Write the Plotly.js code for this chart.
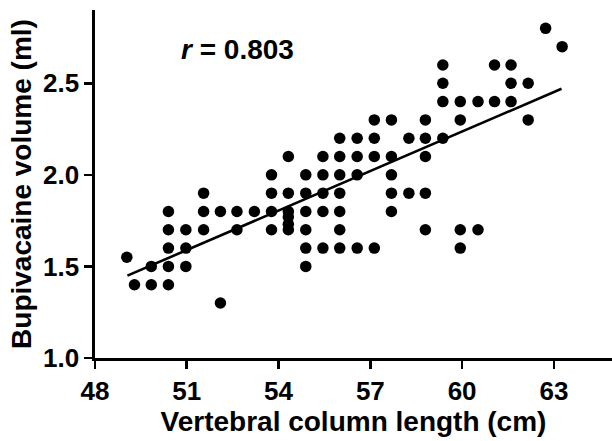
<!DOCTYPE html>
<html>
<head>
<meta charset="utf-8">
<script src="https://cdn.plot.ly/plotly-3.0.1.min.js"></script>
<style>html,body{margin:0;padding:0;background:#fff;}#chart{width:612px;height:441px;}</style>
</head>
<body>
<div id="chart"></div>
<script>
// Vertebral column length (cm) for each patient
const columnLength = [
  49.04,
  49.29,
  49.84, 49.84,
  50.40, 50.40, 50.40, 50.40, 50.40,
  50.97, 50.97, 50.97,
  51.55, 51.55, 51.55,
  52.10, 52.10,
  52.64, 52.64,
  53.21,
  53.77, 53.77, 53.77, 53.77,
  54.32, 54.32, 54.32, 54.32, 54.32, 54.32,
  54.89, 54.89, 54.89, 54.89, 54.89, 54.89,
  55.45, 55.45, 55.45, 55.45, 55.45,
  56.00, 56.00, 56.00, 56.00, 56.00, 56.00, 56.00,
  56.57, 56.57, 56.57, 56.57,
  57.13, 57.13, 57.13, 57.13,
  57.69, 57.69, 57.69, 57.69, 57.69,
  58.26, 58.26,
  58.80, 58.80, 58.80, 58.80, 58.80,
  59.37, 59.37, 59.37, 59.37,
  59.94, 59.94, 59.94, 59.94,
  60.52, 60.52,
  61.06, 61.06,
  61.60, 61.60, 61.60,
  62.16, 62.16,
  62.73,
  63.27
];
// Bupivacaine volume (ml) for each patient
const bupivacaineVolume = [
  1.55,
  1.4,
  1.5, 1.4,
  1.8, 1.7, 1.6, 1.5, 1.4,
  1.7, 1.6, 1.5,
  1.9, 1.8, 1.7,
  1.8, 1.3,
  1.8, 1.7,
  1.8,
  2.0, 1.9, 1.8, 1.7,
  2.1, 1.9, 1.8, 1.77, 1.73, 1.7,
  2.0, 1.9, 1.8, 1.7, 1.6, 1.5,
  2.1, 2.0, 1.9, 1.8, 1.6,
  2.2, 2.1, 2.0, 1.9, 1.8, 1.7, 1.6,
  2.2, 2.1, 2.0, 1.6,
  2.3, 2.2, 2.1, 1.6,
  2.3, 2.1, 2.0, 1.9, 1.8,
  2.2, 1.9,
  2.3, 2.2, 2.1, 1.9, 1.7,
  2.6, 2.5, 2.4, 2.2,
  2.4, 2.3, 1.7, 1.6,
  2.4, 1.7,
  2.6, 2.4,
  2.6, 2.5, 2.4,
  2.5, 2.3,
  2.8,
  2.7
];
// Regression line end points
const fitLength = [49.06, 63.25];
const fitVolume = [1.45, 2.47];
const xTicks = [48, 51, 54, 57, 60, 63];
const yTicks = [1.0, 1.5, 2.0, 2.5];
const rLabel = '<i>r</i> = 0.803';

const FONT = 'Liberation Sans, Arial, Helvetica, sans-serif';

const traces = [
  {
    x: columnLength, y: bupivacaineVolume,
    type: 'scatter', mode: 'markers',
    marker: {color: '#000', size: 11.5},
    showlegend: false, hoverinfo: 'x+y'
  },
  {
    x: fitLength, y: fitVolume,
    type: 'scatter', mode: 'lines',
    line: {color: '#000', width: 2.6},
    showlegend: false, hoverinfo: 'skip'
  }
];

const axisCommon = {
  showline: true, linecolor: '#000', linewidth: 2.6,
  ticks: 'outside', ticklen: 8, tickwidth: 2.6, tickcolor: '#000',
  showgrid: false, zeroline: false,
  tickfont: {family: FONT, size: 26, color: '#000', weight: 'bold'}
};

const layout = {
  width: 612, height: 441,
  margin: {l: 95, r: 0, t: 10, b: 83},
  paper_bgcolor: '#fff', plot_bgcolor: '#fff',
  font: {family: FONT, color: '#000'},
  xaxis: Object.assign({}, axisCommon, {
    range: [48, 64.9],
    tickmode: 'array', tickvals: xTicks, ticktext: xTicks.map(String),
    title: {text: 'Vertebral column length (cm)', standoff: 0,
            font: {family: FONT, size: 28, color: '#000', weight: 'bold'}}
  }),
  yaxis: Object.assign({}, axisCommon, {
    range: [1.0, 2.9],
    tickmode: 'array', tickvals: yTicks, ticktext: yTicks.map(v => v.toFixed(1)),
    title: {text: 'Bupivacaine volume (ml)', standoff: 4,
            font: {family: FONT, size: 28, color: '#000', weight: 'bold'}}
  }),
  annotations: [{
    x: 50.75, y: 2.683, xref: 'x', yref: 'y',
    xanchor: 'left', yanchor: 'middle',
    text: rLabel, showarrow: false,
    font: {family: FONT, size: 28, color: '#000', weight: 'bold'}
  }]
};

Plotly.newPlot('chart', traces, layout, {displayModeBar: false, staticPlot: true});
</script>
</body>
</html>
